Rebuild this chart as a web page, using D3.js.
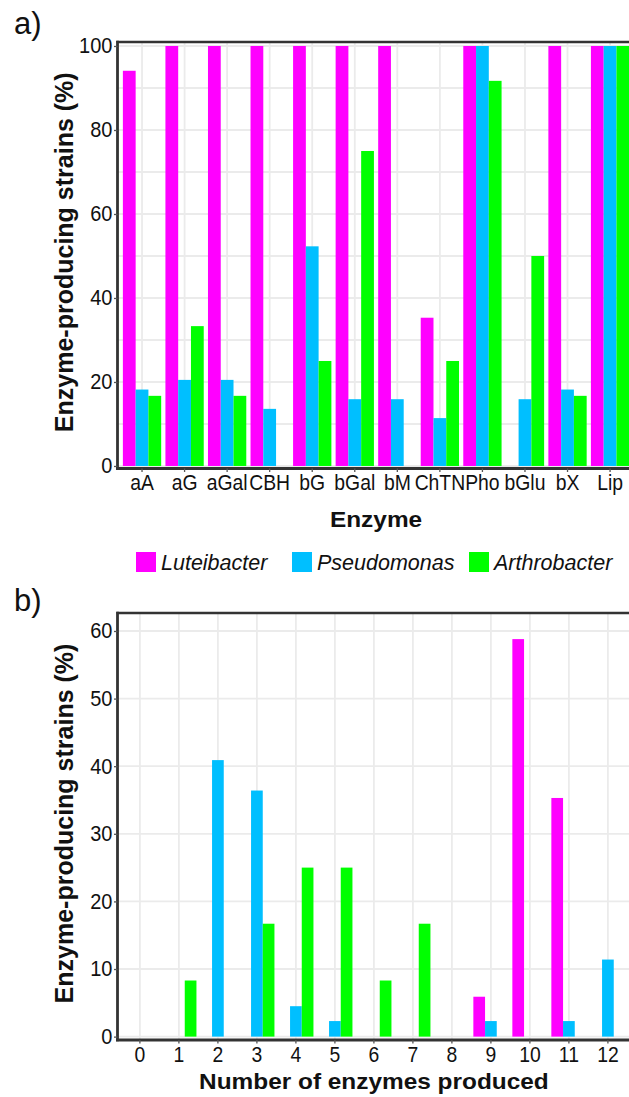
<!DOCTYPE html>
<html>
<head>
<meta charset="utf-8">
<script src="https://cdn.jsdelivr.net/npm/d3@7"></script>
<style>
  html, body { margin: 0; padding: 0; background: #fff; }
  svg { display: block; }
  text { font-family: "Liberation Sans", Arial, Helvetica, sans-serif; fill: #111; }
</style>
</head>
<body>
<svg id="chart" width="629" height="1097"></svg>
<script>
// ---------- DATA ----------
const enzymes = ["aA","aG","aGal","CBH","bG","bGal","bM","ChTN","Pho","bGlu","bX","Lip"];
const luteibacterA  = [94.1,100,100,100,100,100,100,35.3,100,0,100,100];
const pseudomonasA  = [18.2,20.5,20.5,13.6,52.3,15.9,15.9,11.4,100,15.9,18.2,100];
const arthrobacterA = [16.7,33.3,16.7,0,25,75,0,25,91.7,50,16.7,100];

const enzymeCounts  = ["0","1","2","3","4","5","6","7","8","9","10","11","12"];
const luteibacterB  = [0,0,0,0,0,0,0,0,0,5.9,58.8,35.3,0];
const pseudomonasB  = [0,0,40.9,36.4,4.5,2.3,0,0,0,2.3,0,2.3,11.4];
const arthrobacterB = [0,8.3,0,16.7,25,25,8.3,16.7,0,0,0,0,0];

const genera = ["Luteibacter","Pseudomonas","Arthrobacter"];
const generaColors = ["#ff00ff","#00bfff","#00ff00"];

const ticksA = [0,20,40,60,80,100];
const gridA  = [0,10,20,30,40,50,60,70,80,90,100];
const ticksB = [0,10,20,30,40,50,60];

const yTitle = "Enzyme-producing strains (%)";

// ---------- DRAW ----------
const svg = d3.select("#chart");
const color = d3.scaleOrdinal().domain(genera).range(generaColors);
const L = 116.5;

function panel(cfg) {
  const x = d3.scaleBand().domain(cfg.cats).range([L, cfg.right]).paddingInner(0).paddingOuter(0.1);
  const y = d3.scaleLinear().domain(cfg.ydom).range([cfg.bottom, cfg.top]);
  const sub = d3.scaleBand().domain(genera).range([-0.45 * x.step(), 0.45 * x.step()]).padding(0);
  const g = svg.append("g");
  const [r0, r1] = [L, cfg.right];

  // grid
  g.append("g").selectAll("line.h").data(cfg.grid).join("line")
    .attr("x1", r0).attr("x2", r1).attr("y1", d => y(d)).attr("y2", d => y(d))
    .attr("stroke", "#ebebeb").attr("stroke-width", 1.8);
  g.append("g").selectAll("line.v").data(cfg.cats).join("line")
    .attr("x1", d => x(d) + x.bandwidth()/2).attr("x2", d => x(d) + x.bandwidth()/2)
    .attr("y1", cfg.top).attr("y2", cfg.bottom)
    .attr("stroke", "#ebebeb").attr("stroke-width", 1.8);

  // bars
  const rows = [];
  cfg.cats.forEach((c, i) => {
    cfg.series.forEach((s, j) => { if (s[i] > 0) rows.push({c, k: genera[j], v: s[i]}); });
  });
  g.append("g").selectAll("rect").data(rows).join("rect")
    .attr("x", d => x(d.c) + x.bandwidth()/2 + sub(d.k))
    .attr("width", sub.bandwidth())
    .attr("y", d => y(d.v))
    .attr("height", d => y(0) - y(d.v))
    .attr("fill", d => color(d.k));

  // border (top) and axes
  g.append("line").attr("x1", r0).attr("x2", r1 + 5).attr("y1", cfg.top).attr("y2", cfg.top)
    .attr("stroke", "#333").attr("stroke-width", 2.6);
  // y axis
  const ya = d3.axisLeft(y).tickValues(cfg.ticks).tickSize(3.5).tickPadding(2).tickFormat(d3.format("d"));
  const yg = g.append("g").attr("transform", `translate(${L + 1},0)`).call(ya);
  yg.select(".domain").attr("stroke", "#333").attr("stroke-width", 2.8)
    .attr("d", `M0,${cfg.top - 1.3}V${cfg.bottom + 1.3}`);
  yg.selectAll(".tick line").attr("stroke", "#555").attr("stroke-width", 1.3);
  yg.selectAll(".tick text").attr("font-size", 21.5).attr("fill", "#111")
    .attr("transform", "scale(0.93,1)")
    .attr("font-family", '"Liberation Sans", Arial, sans-serif');
  // x axis
  const xa = d3.axisBottom(x).tickSize(3.5).tickPadding(3);
  const xg = g.append("g").attr("transform", `translate(0,${cfg.bottom})`).call(xa);
  xg.select(".domain").attr("stroke", "#333").attr("stroke-width", 2.8)
    .attr("d", `M${L - 0.5},0H${r1 + 5}`);
  xg.selectAll(".tick line").attr("stroke", "#555").attr("stroke-width", 1.3);
  xg.selectAll(".tick text").attr("font-size", 21.5).attr("fill", "#111")
    .attr("transform", "scale(0.9,1)")
    .attr("font-family", '"Liberation Sans", Arial, sans-serif');

  // titles
  g.append("text").attr("transform", `translate(${(L + r1) / 2},${cfg.xTitleY}) scale(1,0.87)`)
    .attr("text-anchor", "middle").attr("font-weight", "bold").attr("font-size", 24.4)
    .text(cfg.xTitle);
  g.append("text").attr("transform", `translate(73,${(cfg.top + cfg.bottom) / 2 - 3}) rotate(-90)`)
    .attr("text-anchor", "middle").attr("font-weight", "bold").attr("font-size", 25)
    .text(yTitle);
  g.append("text").attr("x", 14).attr("y", cfg.labelY).attr("font-size", 31).text(cfg.label);
}

panel({
  cats: enzymes, series: [luteibacterA, pseudomonasA, arthrobacterA],
  right: 635.6, top: 42, bottom: 468.5, ydom: [-0.6, 100.95],
  ticks: ticksA, grid: gridA, xTitle: "Enzyme", xTitleY: 527, label: "a)", labelY: 34
});
panel({
  cats: enzymeCounts, series: [luteibacterB, pseudomonasB, arthrobacterB],
  right: 631.3, top: 613, bottom: 1040, ydom: [-0.5, 62.66],
  ticks: ticksB, grid: ticksB, xTitle: "Number of enzymes produced", xTitleY: 1088.5, label: "b)", labelY: 611
});

// legend
const legX = [136, 292, 469];
const leg = svg.append("g").selectAll("g").data(genera).join("g")
  .attr("transform", (d, i) => `translate(${legX[i]},552)`);
leg.append("rect").attr("width", 20).attr("height", 20).attr("fill", d => color(d));
leg.append("text").attr("x", 25).attr("y", 18).attr("font-size", 21.5).attr("font-style", "italic").text(d => d);
</script>
</body>
</html>
